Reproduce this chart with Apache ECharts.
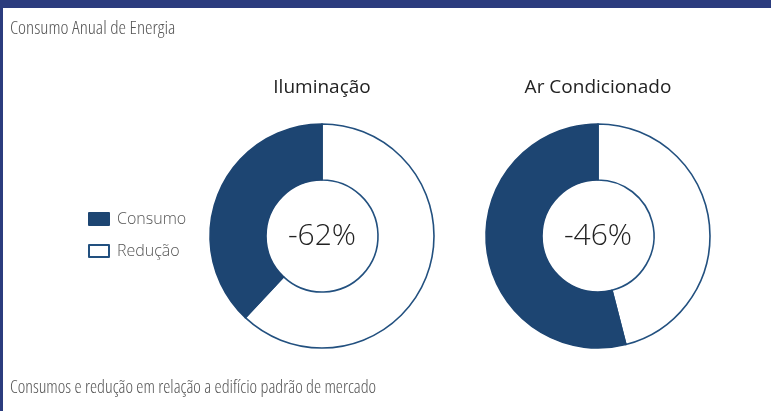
<!DOCTYPE html>
<html>
<head>
<meta charset="utf-8">
<script src="https://cdn.jsdelivr.net/npm/echarts@6/dist/echarts.min.js"></script>
<style>
  html,body{margin:0;padding:0;background:#fff;}
  #main{width:771px;height:411px;}
</style>
</head>
<body>
<div id="main"></div>
<script>
  // dados
  var chartNames = ['Iluminação', 'Ar Condicionado'];
  var legendNames = ['Consumo', 'Redução'];
  var reducao = [62, 46];
  var consumo = [38, 54];

  var fonte = "'Open Sans', sans-serif";
  var azul = '#1d4572';
  var centros = [322, 598];

  var chartDom = document.getElementById('main');
  var myChart = echarts.init(chartDom);

  var series = [];
  var titles = [
    {
      text: 'Consumo Anual de Energia',
      left: 5, top: 14,
      textStyle: {fontFamily: fonte, fontSize: 19, fontWeight: '300 condensed', color: '#555'}
    },
    {
      text: 'Consumos e redução em relação a edifício padrão de mercado',
      left: 5, top: 374,
      textStyle: {fontFamily: fonte, fontSize: 18, fontWeight: '300 condensed', color: '#555'}
    }
  ];
  for (var i = 0; i < chartNames.length; i++) {
    titles.push({
      text: chartNames[i],
      left: centros[i] - 5, top: 73,
      textAlign: 'center',
      textStyle: {fontFamily: fonte, fontSize: 19, fontWeight: 'normal', color: '#222'}
    });
    series.push({
      name: chartNames[i],
      type: 'pie',
      center: [centros[i], 236],
      radius: [56, 112],
      startAngle: 90,
      clockwise: true,
      silent: true,
      label: {show: false},
      labelLine: {show: false},
      itemStyle: {borderColor: '#22507f', borderWidth: 1.6},
      data: [
        {
          name: legendNames[1], value: reducao[i],
          itemStyle: {color: '#fff'},
          label: {
            show: true, position: 'center',
            formatter: '-{c}%',
            fontFamily: fonte, fontSize: 30, fontWeight: '300', color: '#222'
          }
        },
        {name: legendNames[0], value: consumo[i], itemStyle: {color: azul, borderColor: azul}}
      ]
    });
  }

  var option = {
    animation: false,
    title: titles,
    legend: {
      orient: 'vertical',
      left: 83, top: 206,
      itemWidth: 20, itemHeight: 12,
      itemGap: 16,
      icon: 'rect',
      data: legendNames,
      textStyle: {fontFamily: fonte, fontSize: 16, fontWeight: '300', color: '#555', padding: [0, 0, 0, 3]}
    },
    graphic: [
      {type: 'rect', shape: {x: 0, y: 0, width: 771, height: 8}, style: {fill: '#2b3c7e'}},
      {type: 'rect', shape: {x: 0, y: 0, width: 3, height: 411}, style: {fill: '#2b3c7e'}}
    ],
    series: series
  };
  myChart.setOption(option);
</script>
</body>
</html>
